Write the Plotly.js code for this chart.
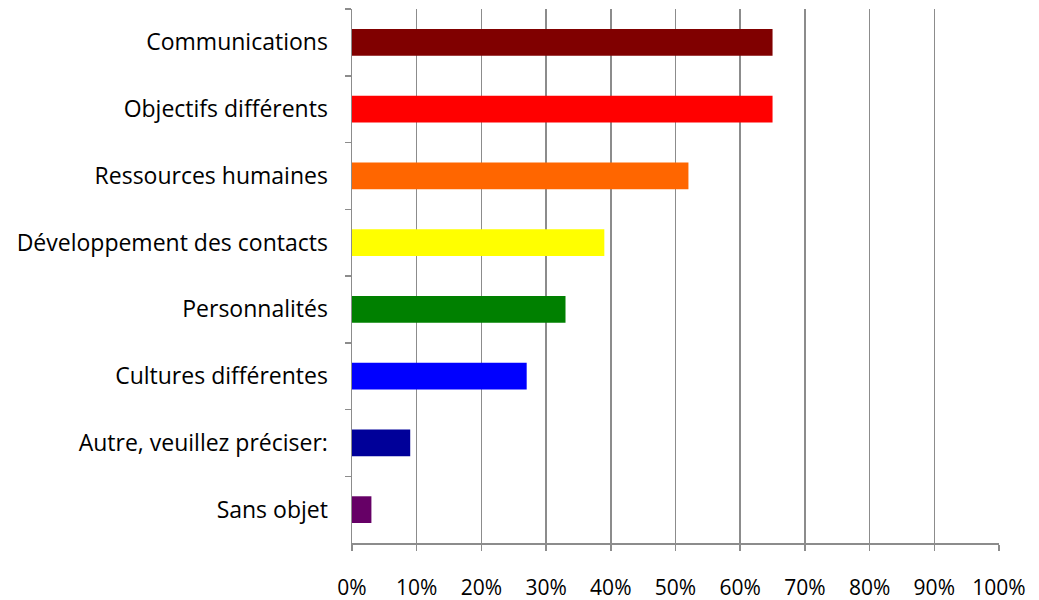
<!DOCTYPE html>
<html>
<head>
<meta charset="utf-8">
<script src="https://cdn.plot.ly/plotly-3.0.1.min.js"></script>
<style>html,body{margin:0;padding:0;background:#fff;}#chart{width:1039px;height:600px;}</style>
</head>
<body>
<div id="chart"></div>
<script>
const categories = ["Communications", "Objectifs différents", "Ressources humaines", "Développement des contacts", "Personnalités", "Cultures différentes", "Autre, veuillez préciser:", "Sans objet"];
const values = [0.65, 0.65, 0.52, 0.39, 0.33, 0.27, 0.09, 0.03];
const colors = ["#800000", "#FF0000", "#FF6600", "#FFFF00", "#008000", "#0000FF", "#000099", "#660066"];
const xTickVals = [0, 0.1, 0.2, 0.3, 0.4, 0.5, 0.6, 0.7, 0.8, 0.9, 1.0];
const xTickText = ["0%", "10%", "20%", "30%", "40%", "50%", "60%", "70%", "80%", "90%", "100%"];

const FONT = "'Open Sans', sans-serif";
const trace = {
  type: "bar",
  orientation: "h",
  x: values,
  y: categories,
  marker: {color: colors, line: {width: 0}},
  hoverinfo: "none"
};
const layout = {
  width: 1039, height: 600,
  margin: {l: 352, r: 40, t: 9, b: 57, pad: 0},
  paper_bgcolor: "#fff", plot_bgcolor: "#fff",
  showlegend: false,
  bargap: 0.6,
  font: {family: FONT, size: 20, color: "#000"},
  xaxis: {
    range: [0, 1], tickvals: xTickVals, ticktext: xTickText,
    tickfont: {family: FONT, size: 21, color: "#000"},
    showgrid: true, gridcolor: "#8c8c8c", gridwidth: 1.5,
    zeroline: false, showline: true, linecolor: "#8c8c8c", linewidth: 1.5,
    ticks: "outside", ticklen: 6, tickcolor: "#8c8c8c", tickwidth: 1.5,
    ticklabelstandoff: 19, fixedrange: true
  },
  yaxis: {
    type: "category", autorange: "reversed",
    tickfont: {family: FONT, size: 23, color: "#000"},
    showgrid: false, zeroline: false, showline: true, linecolor: "#8c8c8c", linewidth: 1.5,
    ticks: "outside", tickson: "boundaries", ticklen: 6, tickcolor: "#8c8c8c", tickwidth: 1.5,
    ticklabelstandoff: 18, fixedrange: true
  }
};
Plotly.newPlot("chart", [trace], layout, {displayModeBar: false, staticPlot: true});
</script>
</body>
</html>
